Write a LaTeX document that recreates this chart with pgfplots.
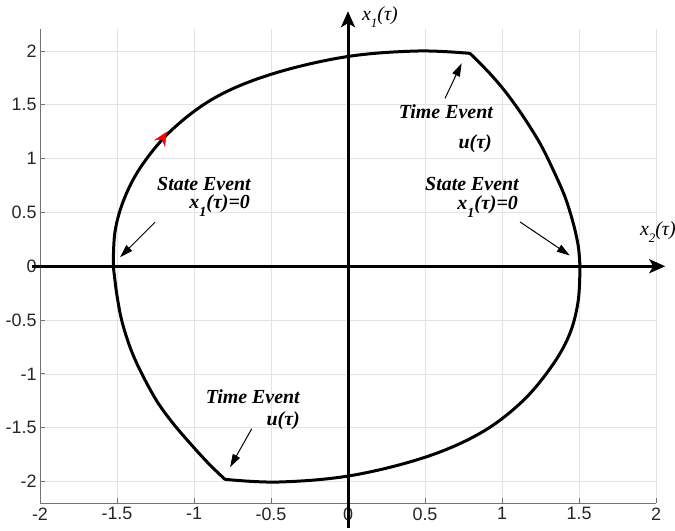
\documentclass[border=0pt]{standalone}
\usepackage{pgfplots}
\pgfplotsset{compat=1.18}
\usepackage{fontspec}
\setmainfont{Liberation Sans}
\newfontfamily\serifit{Liberation Serif}
\usetikzlibrary{arrows.meta}

% phase trajectory: upper arc, switching segment, lower arc, switching segment
\pgfplotstableread{
x y
-1.524 0
-1.512 0.33
-1.448 0.645
-1.33 0.955
-1.134 1.28
-0.853 1.575
-0.485 1.79
-0.01 1.947
0.45 2.00
0.792 1.978
}\arcup
\pgfplotstableread{
x y
0.792 1.978
0.922 1.79
1.03 1.607
1.139 1.389
1.247 1.141
1.333 0.893
1.409 0.645
1.463 0.397
1.496 0.18
1.506 0
}\segright
\pgfplotstableread{
x y
1.506 0
1.494 -0.33
1.435 -0.645
1.315 -0.945
1.125 -1.265
0.86 -1.55
0.50 -1.775
0.02 -1.945
-0.45 -2.005
-0.799 -1.98
}\arcdown
\pgfplotstableread{
x y
-0.799 -1.98
-0.896 -1.847
-1.004 -1.68
-1.134 -1.464
-1.244 -1.247
-1.35 -0.967
-1.416 -0.75
-1.47 -0.50
-1.502 -0.254
-1.524 0
}\segleft

\begin{document}
\begin{tikzpicture}[x=1bp,y=1bp]
\begin{axis}[
  at={(0,0)}, anchor=south west,
  scale only axis, width=616bp, height=473.5bp,
  xmin=-2, xmax=2, ymin=-2.2, ymax=2.2,
  xtick={-2,-1.5,...,2}, ytick={-2,-1.5,...,2},
  grid=major, major grid style={gray!22, line width=0.7bp},
  axis x line*=bottom, axis y line*=left,
  axis line style={black!55, line width=0.9bp, -},
  tick style={black!55, line width=0.8bp}, tick align=inside, major tick length=5bp,
  ticklabel style={font=\fontsize{18}{20}\selectfont, text=black!85},
  /pgf/number format/assume math mode=true,
  xticklabel style={yshift=-1bp},
  clip=false,
]
\addplot[black, line width=3bp, smooth, tension=0.6, line cap=round] table {\arcup};
\addplot[black, line width=3bp, smooth, tension=0.55, line cap=round] table {\segright};
\addplot[black, line width=3bp, smooth, tension=0.6, line cap=round] table {\arcdown};
\addplot[black, line width=3bp, smooth, tension=0.55, line cap=round] table {\segleft};

% direction of motion
\addplot[red, line width=0.5bp, -{Stealth[length=14bp,width=13bp,inset=5bp]}] coordinates {(-1.183,1.235) (-1.177,1.249)};

% phase-plane axes
\draw[black, line width=3bp, -{Stealth[length=16bp,width=14bp,inset=4bp]}] (axis cs:-2.05,0) -- (axis cs:2.06,0);
\draw[black, line width=3bp, -{Stealth[length=16bp,width=14bp,inset=4bp]}] (axis cs:0,-2.43) -- (axis cs:0,2.37);
\node[anchor=base west, inner sep=0pt, font=\serifit\itshape\fontsize{20}{22}\selectfont] at (axis cs:0.09,2.288) {x\raisebox{-7bp}{\fontsize{13}{13}\selectfont 1}(τ)};
\node[anchor=base west, inner sep=0pt, font=\serifit\itshape\fontsize{20}{22}\selectfont] at (axis cs:1.895,0.288) {x\raisebox{-7bp}{\fontsize{13}{13}\selectfont 2}(τ)};

% event annotations
\tikzset{evt/.style={anchor=base east, inner sep=0pt, font=\serifit\bfseries\itshape\fontsize{20}{22}\selectfont},
         evtarrow/.style={black, line width=1bp, -{Triangle[length=13bp,width=8bp]}}}
\node[evt] at (axis cs:-0.630,0.707) {State Event};
\node[evt] at (axis cs:-0.636,0.535) {x\raisebox{-8bp}{\fontsize{14}{14}\selectfont 1}(τ)=0};
\draw[evtarrow] (axis cs:-1.253,0.409) -- (axis cs:-1.48,0.084);

\node[evt] at (axis cs:1.110,0.700) {State Event};
\node[evt] at (axis cs:1.104,0.528) {x\raisebox{-8bp}{\fontsize{14}{14}\selectfont 1}(τ)=0};
\draw[evtarrow] (axis cs:1.117,0.412) -- (axis cs:1.44,0.10);

\node[evt] at (axis cs:0.942,1.377) {Time Event};
\node[evt] at (axis cs:0.935,1.098) {u(τ)};
\draw[evtarrow] (axis cs:0.63,1.56) -- (axis cs:0.738,1.886);

\node[evt] at (axis cs:-0.312,-1.274) {Time Event};
\node[evt] at (axis cs:-0.312,-1.479) {u(τ)};
\draw[evtarrow] (axis cs:-0.625,-1.51) -- (axis cs:-0.766,-1.867);
\end{axis}
\pgfresetboundingbox
\useasboundingbox (-40,-28) rectangle (635,503);
\end{tikzpicture}
\end{document}
